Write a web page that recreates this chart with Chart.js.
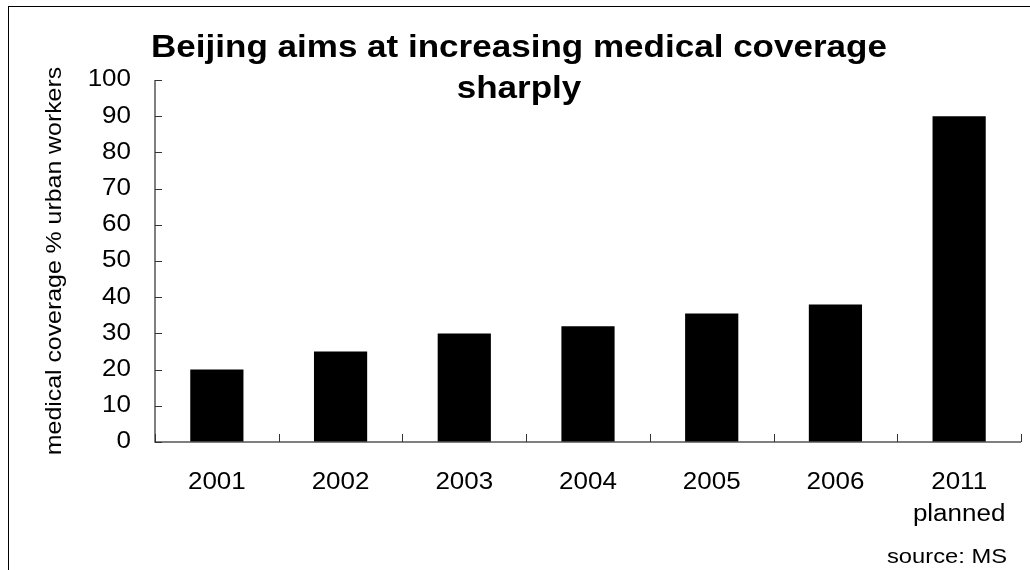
<!DOCTYPE html>
<html>
<head>
<meta charset="utf-8">
<script src="https://cdn.jsdelivr.net/npm/chart.js@4.4.1/dist/chart.umd.min.js"></script>
<style>
  html, body { margin: 0; padding: 0; background: #fff; }
  canvas { display: block; }
</style>
</head>
<body>
<canvas id="c" width="1030" height="570"></canvas>
<script>
const categories = ['2001', '2002', '2003', '2004', '2005', '2006', ['2011', 'planned']];
const coverage = [20, 25, 30, 32, 35.5, 38, 90];
const yTicks = [0, 10, 20, 30, 40, 50, 60, 70, 80, 90, 100];
const titleLines = ['Beijing aims at increasing medical coverage', 'sharply'];
const yAxisTitle = 'medical coverage % urban workers';
const sourceNote = 'source: MS';

const FONT = "'Liberation Sans', Arial, sans-serif";
const TEXT_STRETCH = 1.13; // reference glyphs are rendered wider than Liberation Sans

const canvas = document.getElementById('c');
const ctx0 = canvas.getContext('2d');
// draw every text string slightly wider horizontally, anchored at its own point
const origFillText = ctx0.fillText.bind(ctx0);
ctx0.fillText = function (text, x, y, maxWidth) {
  this.save();
  this.translate(x, y);
  this.scale(TEXT_STRETCH, 1);
  if (maxWidth !== undefined) origFillText(text, 0, 0, maxWidth / TEXT_STRETCH);
  else origFillText(text, 0, 0);
  this.restore();
};

const decor = {
  id: 'decor',
  beforeDraw(chart) {
    const ctx = chart.ctx;
    ctx.save();
    ctx.fillStyle = '#fff';
    ctx.fillRect(0, 0, chart.width, chart.height);
    ctx.restore();
  },
  afterDraw(chart) {
    const ctx = chart.ctx;
    const xs = chart.scales.x, ys = chart.scales.y;
    const area = chart.chartArea;
    ctx.save();
    ctx.strokeStyle = '#000';
    ctx.lineWidth = 1;
    ctx.strokeRect(8.5, 6.5, 1200, 1000);
    ctx.strokeStyle = '#555';
    ctx.lineWidth = 1.5;
    ctx.beginPath();
    ctx.moveTo(area.left, ys.getPixelForValue(yTicks[yTicks.length - 1]));
    ctx.lineTo(area.left, area.bottom);
    ctx.lineTo(area.right, area.bottom);
    ctx.stroke();
    ctx.lineWidth = 1;
    ctx.strokeStyle = '#333';
    ctx.beginPath();
    yTicks.forEach(v => {
      const y = Math.round(ys.getPixelForValue(v)) + 0.5;
      ctx.moveTo(area.left, y);
      ctx.lineTo(area.left + 7, y);
    });
    const n = categories.length;
    for (let i = 0; i <= n; i++) {
      const x = Math.round(xs.left + i * (xs.width / n)) + 0.5;
      ctx.moveTo(x, area.bottom);
      ctx.lineTo(x, area.bottom - 8);
    }
    ctx.stroke();
    // title
    ctx.fillStyle = '#000';
    ctx.textAlign = 'center';
    ctx.textBaseline = 'alphabetic';
    ctx.font = 'bold 31px ' + FONT;
    ctx.fillText(titleLines[0], 519, 57);
    ctx.fillText(titleLines[1], 519, 98);
    // source
    ctx.font = '21px ' + FONT;
    ctx.textAlign = 'right';
    ctx.fillText(sourceNote, 1007, 563);
    ctx.restore();
  }
};

new Chart(canvas, {
  type: 'bar',
  data: {
    labels: categories,
    datasets: [{
      data: coverage,
      backgroundColor: '#000',
      borderWidth: 0,
      barPercentage: 0.43,
      categoryPercentage: 1.0
    }]
  },
  options: {
    responsive: false,
    animation: false,
    devicePixelRatio: 1,
    layout: { padding: { top: 80, right: 9, bottom: 0, left: 0 } },
    plugins: { legend: { display: false }, tooltip: { enabled: false }, title: { display: false } },
    scales: {
      x: {
        grid: { display: false, drawTicks: false },
        border: { display: false },
        ticks: {
          color: '#000',
          font: { family: FONT, size: 23, lineHeight: 1.41 },
          padding: 24,
          maxRotation: 0,
          autoSkip: false
        },
        afterFit(scale) { scale.height = 128; }
      },
      y: {
        min: 0, max: 100,
        afterBuildTicks(scale) { scale.ticks = yTicks.map(v => ({ value: v })); },
        grid: { display: false, drawTicks: false },
        border: { display: false },
        ticks: {
          color: '#000',
          font: { family: FONT, size: 23 },
          padding: 24
        },
        title: {
          display: true,
          text: yAxisTitle,
          color: '#000',
          font: { family: FONT, size: 22, lineHeight: 1.2 },
          padding: { top: 42, bottom: 0 }
        },
        afterFit(scale) { scale.width = 155; }
      }
    }
  },
  plugins: [decor]
});
</script>
</body>
</html>
